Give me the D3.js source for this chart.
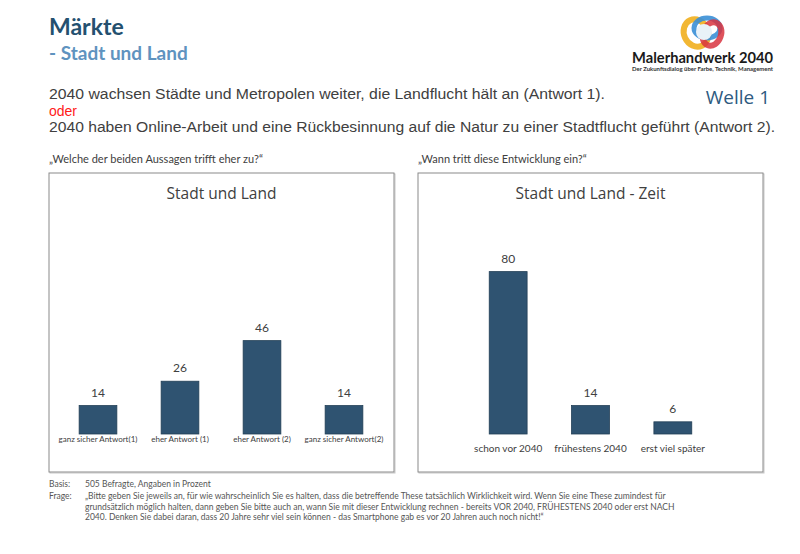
<!DOCTYPE html>
<html>
<head>
<meta charset="utf-8">
<script src="https://cdn.jsdelivr.net/npm/d3@7"></script>
<style>
  body { margin: 0; background: #fff; }
  svg { display: block; }
</style>
</head>
<body>
<svg id="chart"></svg>
<script>
// Data
const leftCategories = ["ganz sicher Antwort(1)", "eher Antwort (1)", "eher Antwort (2)", "ganz sicher Antwort(2)"];
const leftValues = [14, 26, 46, 14];
const rightCategories = ["schon vor 2040", "frühestens 2040", "erst viel später"];
const rightValues = [80, 14, 6];
const frageLines = [
  "„Bitte geben Sie jeweils an, für wie wahrscheinlich Sie es halten, dass die betreffende These tatsächlich Wirklichkeit wird. Wenn Sie eine These zumindest für",
  "grundsätzlich möglich halten, dann geben Sie bitte auch an, wann Sie mit dieser Entwicklung rechnen  - bereits VOR 2040, FRÜHESTENS 2040 oder erst NACH",
  "2040. Denken Sie dabei daran, dass 20 Jahre sehr viel sein können - das Smartphone gab es vor 20 Jahren auch noch nicht!“"
];

const width = 800, height = 554;
const barColor = "#2f5371";
const textColor = "#404040";
const sans = "Lato, 'Open Sans', sans-serif";

const svg = d3.select("#chart")
    .attr("width", width)
    .attr("height", height)
    .style("font-family", sans);

// Header
svg.append("text").attr("x", 49).attr("y", 35)
    .attr("font-size", 23).attr("font-weight", 700).attr("fill", "#24506f")
    .text("Märkte");
svg.append("text").attr("x", 49).attr("y", 60)
    .attr("font-size", 19).attr("font-weight", 700).attr("fill", "#5f93bf")
    .text("- Stadt und Land");

const stmt = svg.append("g").style("font-family", "'Liberation Sans', sans-serif").attr("fill", textColor);
stmt.append("text").attr("x", 49).attr("y", 99).attr("font-size", 14)
    .attr("textLength", 556).attr("lengthAdjust", "spacingAndGlyphs")
    .text("2040 wachsen Städte und Metropolen weiter, die Landflucht hält an (Antwort 1).");
stmt.append("text").attr("x", 49).attr("y", 115.5).attr("font-size", 14).attr("fill", "#ff1a1a")
    .text("oder");
stmt.append("text").attr("x", 49).attr("y", 132).attr("font-size", 14)
    .attr("textLength", 726).attr("lengthAdjust", "spacingAndGlyphs")
    .text("2040 haben Online-Arbeit und eine Rückbesinnung auf die Natur zu einer Stadtflucht geführt (Antwort 2).");

svg.append("text").attr("x", 770).attr("y", 104).attr("text-anchor", "end")
    .style("font-family", "'Open Sans', sans-serif")
    .attr("font-size", 19).attr("fill", "#2e5a80")
    .text("Welle 1");

// Logo
const logo = svg.append("g");
logo.append("ellipse").attr("cx", 696).attr("cy", 33).attr("rx", 12).attr("ry", 14)
    .attr("fill", "none").attr("stroke", "#f2b733").attr("stroke-width", 6)
    .attr("transform", "rotate(-25 696 33)");
logo.append("ellipse").attr("cx", 707).attr("cy", 28).attr("rx", 13).attr("ry", 10)
    .attr("fill", "none").attr("stroke", "#3a8fd6").attr("stroke-width", 5).attr("opacity", 0.9);
logo.append("ellipse").attr("cx", 712).attr("cy", 34).attr("rx", 9).attr("ry", 12)
    .attr("fill", "none").attr("stroke", "#d8343f").attr("stroke-width", 6).attr("opacity", 0.85)
    .attr("transform", "rotate(20 712 34)");
logo.append("ellipse").attr("cx", 704).attr("cy", 32).attr("rx", 8).attr("ry", 8)
    .attr("fill", "#e9f2f8");
logo.append("text").attr("x", 632).attr("y", 63)
    .attr("font-size", 16).attr("font-weight", 700).attr("fill", "#1a1a1a")
    .attr("textLength", 141).attr("lengthAdjust", "spacingAndGlyphs")
    .text("Malerhandwerk 2040");
logo.append("text").attr("x", 632).attr("y", 71)
    .attr("font-size", 5.5).attr("font-weight", 700).attr("fill", "#333")
    .attr("textLength", 141).attr("lengthAdjust", "spacingAndGlyphs")
    .text("Der Zukunftsdialog über Farbe, Technik, Management");

// Questions
svg.append("text").attr("x", 49).attr("y", 163).attr("font-size", 11).attr("fill", textColor)
    .text("„Welche der beiden Aussagen trifft eher zu?“");
svg.append("text").attr("x", 418).attr("y", 163).attr("font-size", 11).attr("fill", textColor)
    .text("„Wann tritt diese Entwicklung ein?“");

// Shared y scale
const yScale = d3.scaleLinear().domain([0, 100]).range([434, 231]);

function drawPanel(box, title, categories, values, xRange, labelSize, labelPad) {
    const g = svg.append("g");
    g.append("rect")
        .attr("x", box.x + 1).attr("y", box.y + 1).attr("width", box.w).attr("height", box.h)
        .attr("fill", "none").attr("stroke", "#c8c8c8").attr("stroke-width", 1);
    g.append("rect")
        .attr("x", box.x).attr("y", box.y).attr("width", box.w).attr("height", box.h)
        .attr("fill", "#fff").attr("stroke", "#8a8a8a").attr("stroke-width", 1);
    g.append("text")
        .attr("x", box.x + box.w / 2).attr("y", 199).attr("text-anchor", "middle")
        .style("font-family", "'Open Sans', sans-serif")
        .attr("font-size", 15.5).attr("fill", textColor)
        .text(title);

    const xScale = d3.scaleBand()
        .domain(categories)
        .range(xRange)
        .paddingInner(0.54)
        .paddingOuter(0.27);

    const data = categories.map((c, i) => ({ cat: c, val: values[i] }));

    g.selectAll("rect.bar")
        .data(data)
        .enter().append("rect")
        .attr("class", "bar")
        .attr("x", d => xScale(d.cat))
        .attr("y", d => yScale(d.val))
        .attr("width", xScale.bandwidth())
        .attr("height", d => yScale(0) - yScale(d.val))
        .attr("fill", barColor)
        .attr("stroke", "#223f56")
        .attr("stroke-width", 0.8);

    g.selectAll("text.val")
        .data(data)
        .enter().append("text")
        .attr("class", "val")
        .attr("x", d => xScale(d.cat) + xScale.bandwidth() / 2)
        .attr("y", d => yScale(d.val) - 9)
        .attr("text-anchor", "middle")
        .attr("font-size", 12)
        .attr("fill", textColor)
        .text(d => d.val);

    const axis = g.append("g")
        .attr("transform", `translate(0,${yScale(0)})`)
        .call(d3.axisBottom(xScale).tickSize(0).tickPadding(labelPad));
    axis.select(".domain").remove();
    axis.selectAll("text")
        .style("font-family", sans)
        .attr("font-size", labelSize)
        .attr("fill", textColor);
}

drawPanel({ x: 49, y: 173, w: 345, h: 299 }, "Stadt und Land",
    leftCategories, leftValues, [57, 385], 8, 2);
drawPanel({ x: 418, y: 173, w: 345, h: 299 }, "Stadt und Land - Zeit",
    rightCategories, rightValues, [467, 714], 10, 11);

// Footer
const foot = svg.append("g").attr("font-size", 8.5).attr("fill", "#555");
foot.append("text").attr("x", 49).attr("y", 487).text("Basis:");
foot.append("text").attr("x", 85).attr("y", 487).text("505 Befragte, Angaben in Prozent");
foot.append("text").attr("x", 49).attr("y", 499).text("Frage:");
foot.selectAll("text.frage")
    .data(frageLines)
    .enter().append("text")
    .attr("class", "frage")
    .attr("x", 85)
    .attr("y", (d, i) => 499 + i * 10.5)
    .text(d => d);
</script>
</body>
</html>
